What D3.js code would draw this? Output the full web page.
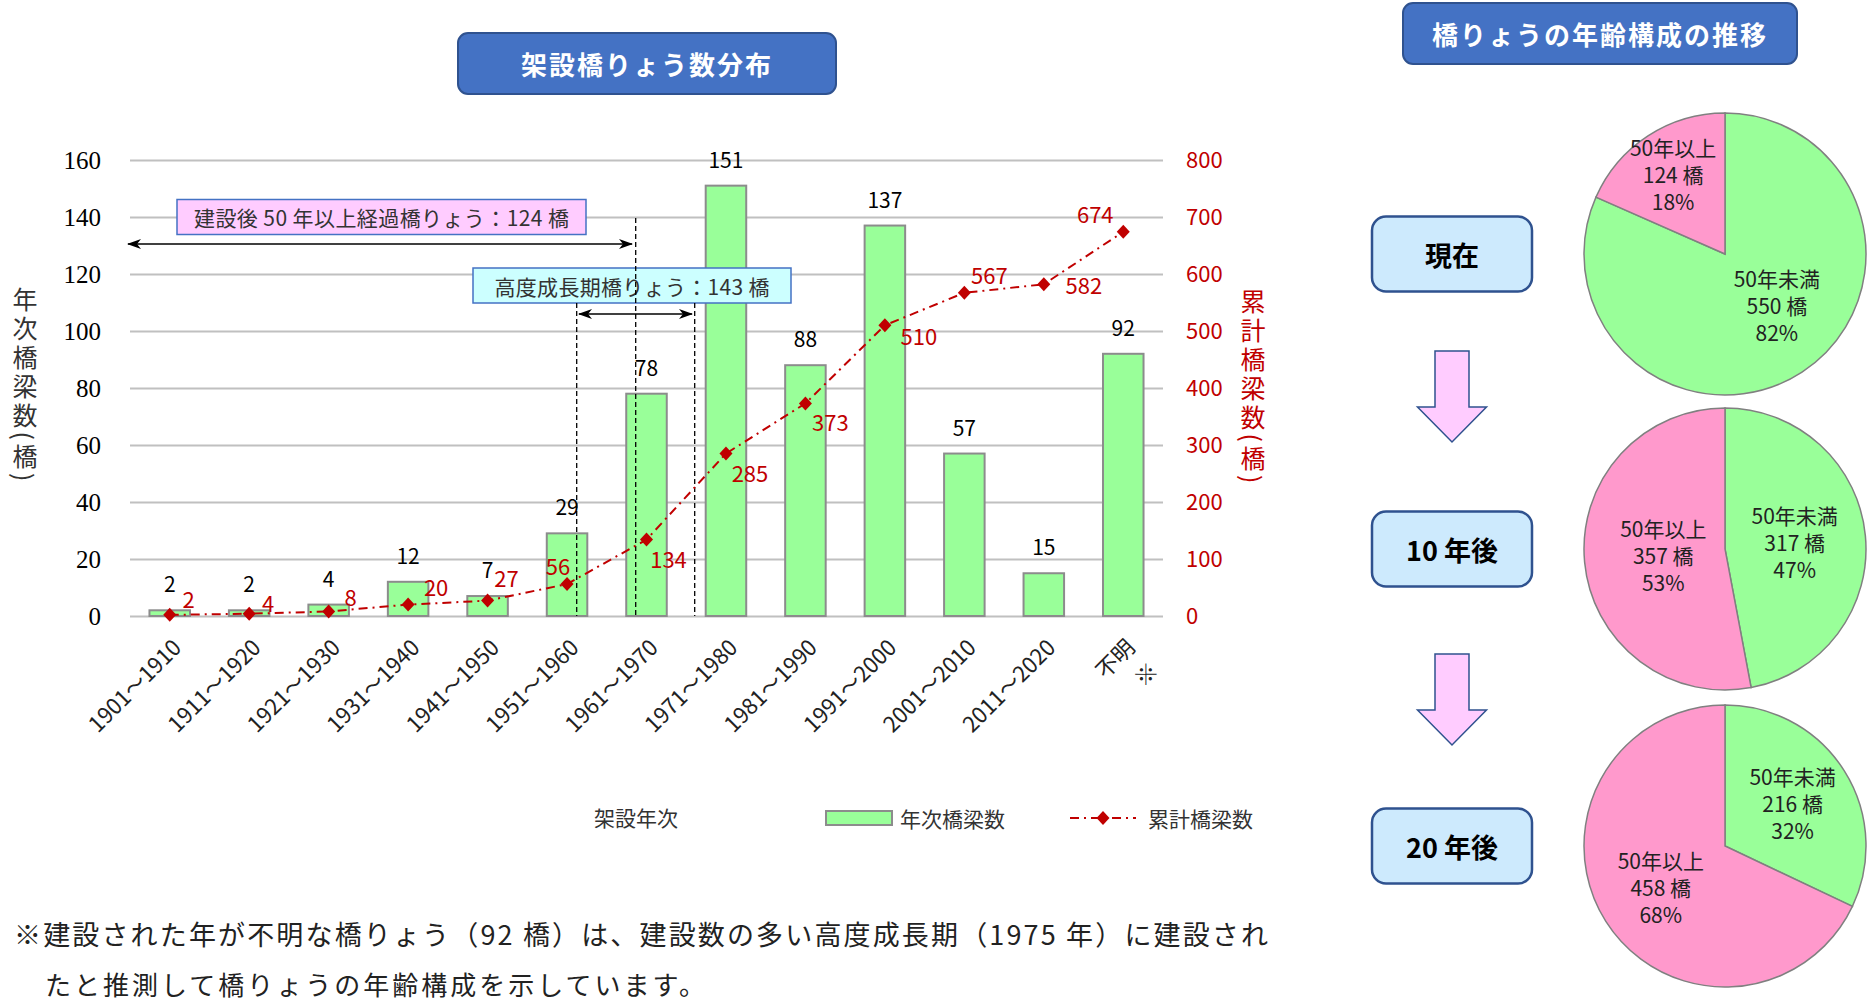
<!DOCTYPE html>
<html lang="ja">
<head>
<meta charset="utf-8">
<script src="https://cdn.jsdelivr.net/npm/d3@7"></script>
<style>
  body { margin: 0; background: #fff; }
  svg text { font-family: "Noto Sans CJK JP", "Noto Sans", sans-serif; }
</style>
</head>
<body>
<svg id="chart" width="1875" height="1002"></svg>
<script>
// --- data ---
const categories = ["1901～1910", "1911～1920", "1921～1930", "1931～1940", "1941～1950",
  "1951～1960", "1961～1970", "1971～1980", "1981～1990", "1991～2000",
  "2001～2010", "2011～2020", "不明※"];
const annualCounts = [2, 2, 4, 12, 7, 29, 78, 151, 88, 137, 57, 15, 92];
const cumulativeCounts = [2, 4, 8, 20, 27, 56, 134, 285, 373, 510, 567, 582, 674];
const leftTicks = [0, 20, 40, 60, 80, 100, 120, 140, 160];
const rightTicks = [0, 100, 200, 300, 400, 500, 600, 700, 800];

const stages = ["現在", "10 年後", "20 年後"];
const under50 = [550, 317, 216];
const over50 = [124, 357, 458];

// where the red labels sit next to their markers
const cumLabelOffset = [[19, -17], [19, -12], [22, -15], [28, -19], [19, -24], [-9, -19],
  [22, 18], [24, 18], [25, 18], [34, 10], [25, -19], [40, 0], [-28, -19]];

const svg = d3.select("#chart");
svg.append("rect").attr("width", 1875).attr("height", 1002).attr("fill", "#fff");

const plotL = 130, plotR = 1163, plotT = 160, plotB = 616;

const x = d3.scaleBand().domain(categories).range([plotL, plotR]);
const cx = (d) => x(d) + x.bandwidth() / 2;
const barW = x.bandwidth() * 0.51;
const yLeft = d3.scaleLinear().domain([0, 160]).range([plotB, plotT]);
const yRight = d3.scaleLinear().domain([0, 800]).range([plotB, plotT]);

// title boxes
function titleBox(x0, y0, w, h, label, size) {
  svg.append("rect").attr("x", x0).attr("y", y0).attr("width", w).attr("height", h)
    .attr("rx", 10).attr("fill", "#4472c4").attr("stroke", "#2f528f").attr("stroke-width", 2);
  svg.append("text").attr("x", x0 + w / 2).attr("y", y0 + h / 2)
    .attr("text-anchor", "middle").attr("dominant-baseline", "central")
    .attr("fill", "#fff").attr("font-weight", "bold").attr("font-size", size)
    .attr("letter-spacing", 2).text(label);
}
titleBox(458, 33, 378, 61, "架設橋りょう数分布", 26);
titleBox(1403, 3, 394, 61, "橋りょうの年齢構成の推移", 26);

// left axis + gridlines
const gLeft = svg.append("g").attr("transform", `translate(${plotL},0)`)
  .call(d3.axisLeft(yLeft).tickValues(leftTicks).tickSize(-(plotR - plotL)).tickPadding(29));
gLeft.select(".domain").remove();
gLeft.selectAll(".tick line").attr("stroke", "#c0c0c0").attr("stroke-width", 2);
gLeft.selectAll(".tick text").style("font-family", "'Liberation Serif', 'DejaVu Serif', serif")
  .attr("font-size", 25).attr("fill", "#000");

// right axis
const gRight = svg.append("g").attr("transform", `translate(${plotR},0)`)
  .call(d3.axisRight(yRight).tickValues(rightTicks).tickSize(0).tickPadding(23));
gRight.select(".domain").remove();
gRight.selectAll(".tick text").attr("font-size", 22).attr("fill", "#c00000");

// x axis labels
const gX = svg.append("g").attr("transform", `translate(0,${plotB})`)
  .call(d3.axisBottom(x).tickSize(0));
gX.select(".domain").remove();
gX.selectAll(".tick text")
  .attr("font-size", 22).attr("fill", "#222")
  .attr("text-anchor", "end").attr("x", 0).attr("y", 0).attr("dy", 0)
  .attr("transform", "translate(13,33) rotate(-45)")
  .each(function (d) {
    if (d.includes("※")) {
      const t = d3.select(this).text("");
      t.append("tspan").attr("x", 0).attr("dy", 0).text(d.replace("※", ""));
      t.append("tspan").attr("x", 0).attr("dy", "1.5em").text("※");
    }
  });

// axis titles
svg.append("text").attr("x", 25).attr("y", 386)
  .attr("text-anchor", "middle").style("writing-mode", "vertical-rl")
  .attr("font-size", 25).attr("letter-spacing", 4).attr("fill", "#333").text("年次橋梁数(橋)");
svg.append("text").attr("x", 1253).attr("y", 388)
  .attr("text-anchor", "middle").style("writing-mode", "vertical-rl")
  .attr("font-size", 25).attr("letter-spacing", 4).attr("fill", "#c00000").text("累計橋梁数(橋)");
svg.append("text").attr("x", 636).attr("y", 817)
  .attr("text-anchor", "middle").attr("dominant-baseline", "central")
  .attr("font-size", 21).attr("fill", "#333").text("架設年次");

// bars
svg.append("g").selectAll("rect").data(annualCounts).join("rect")
  .attr("x", (d, i) => cx(categories[i]) - barW / 2)
  .attr("y", (d) => yLeft(d))
  .attr("width", barW)
  .attr("height", (d) => plotB - yLeft(d))
  .attr("fill", "#99ff99").attr("stroke", "#8c8c8c").attr("stroke-width", 2);

svg.append("g").selectAll("text").data(annualCounts).join("text")
  .attr("x", (d, i) => cx(categories[i]))
  .attr("y", (d) => yLeft(d) - 18)
  .attr("text-anchor", "middle").attr("font-size", 21).attr("fill", "#000")
  .text((d) => d);

// annotation: 50 years
svg.append("rect").attr("x", 177).attr("y", yLeft(140) - 17.5).attr("width", 409).attr("height", 35)
  .attr("fill", "#ffccff").attr("stroke", "#4472c4").attr("stroke-width", 1.5);
svg.append("text").attr("x", 381.5).attr("y", yLeft(140))
  .attr("text-anchor", "middle").attr("dominant-baseline", "central")
  .attr("font-size", 21).attr("fill", "#333").attr("textLength", 375)
  .text("建設後 50 年以上経過橋りょう：124 橋");

// annotation: high growth
svg.append("rect").attr("x", 473).attr("y", 268).attr("width", 318).attr("height", 35)
  .attr("fill", "#ccffff").attr("stroke", "#4472c4").attr("stroke-width", 1.5);
svg.append("text").attr("x", 632).attr("y", 285.5)
  .attr("text-anchor", "middle").attr("dominant-baseline", "central")
  .attr("font-size", 21).attr("fill", "#333").attr("textLength", 275)
  .text("高度成長期橋りょう：143 橋");

// arrow heads
const defs = svg.append("defs");
defs.append("marker").attr("id", "ah").attr("viewBox", "0 0 14 10")
  .attr("refX", 13).attr("refY", 5).attr("markerWidth", 14).attr("markerHeight", 10)
  .attr("markerUnits", "userSpaceOnUse").attr("orient", "auto-start-reverse")
  .append("path").attr("d", "M0,0 L14,5 L0,10 L4,5 Z").attr("fill", "#000");

const dashed = [[635.7, 218], [576.7, 303], [694.7, 303]];
dashed.forEach(([xx, y0]) => {
  svg.append("line").attr("x1", xx).attr("x2", xx).attr("y1", y0).attr("y2", plotB)
    .attr("stroke", "#000").attr("stroke-width", 1.3).attr("stroke-dasharray", "5,3");
});

svg.append("line").attr("x1", 128).attr("x2", 632).attr("y1", 244).attr("y2", 244)
  .attr("stroke", "#000").attr("stroke-width", 1.5)
  .attr("marker-start", "url(#ah)").attr("marker-end", "url(#ah)");
svg.append("line").attr("x1", 579).attr("x2", 692).attr("y1", 314).attr("y2", 314)
  .attr("stroke", "#000").attr("stroke-width", 1.5)
  .attr("marker-start", "url(#ah)").attr("marker-end", "url(#ah)");

// cumulative line
const line = d3.line().x((d, i) => cx(categories[i])).y((d) => yRight(d));
svg.append("path").datum(cumulativeCounts).attr("d", line)
  .attr("fill", "none").attr("stroke", "#c00000").attr("stroke-width", 2)
  .attr("stroke-dasharray", "9,5,2,5");

const diamond = "M0,-7L6.5,0L0,7L-6.5,0Z";
svg.append("g").selectAll("path").data(cumulativeCounts).join("path")
  .attr("d", diamond)
  .attr("transform", (d, i) => `translate(${cx(categories[i])},${yRight(d)})`)
  .attr("fill", "#c00000");

svg.append("g").selectAll("text").data(cumulativeCounts).join("text")
  .attr("x", (d, i) => cx(categories[i]) + cumLabelOffset[i][0])
  .attr("y", (d, i) => yRight(d) + cumLabelOffset[i][1])
  .attr("text-anchor", "middle").attr("dominant-baseline", "central")
  .attr("font-size", 22).attr("fill", "#c00000")
  .text((d) => d);

// legend
svg.append("rect").attr("x", 826).attr("y", 811).attr("width", 66).attr("height", 14)
  .attr("fill", "#99ff99").attr("stroke", "#8c8c8c").attr("stroke-width", 2);
svg.append("text").attr("x", 900).attr("y", 818).attr("dominant-baseline", "central")
  .attr("font-size", 21).attr("fill", "#333").text("年次橋梁数");
svg.append("line").attr("x1", 1070).attr("x2", 1136).attr("y1", 818).attr("y2", 818)
  .attr("stroke", "#c00000").attr("stroke-width", 2).attr("stroke-dasharray", "9,5,2,5");
svg.append("path").attr("d", diamond).attr("transform", "translate(1103,818)").attr("fill", "#c00000");
svg.append("text").attr("x", 1148).attr("y", 818).attr("dominant-baseline", "central")
  .attr("font-size", 21).attr("fill", "#333").text("累計橋梁数");

// footnote
svg.append("text").attr("x", 14).attr("y", 933).attr("dominant-baseline", "central")
  .attr("font-size", 27).attr("fill", "#222").attr("textLength", 1254)
  .text("※建設された年が不明な橋りょう（92 橋）は、建設数の多い高度成長期（1975 年）に建設され");
svg.append("text").attr("x", 45).attr("y", 983).attr("dominant-baseline", "central")
  .attr("font-size", 26).attr("fill", "#222").attr("textLength", 660)
  .text("たと推測して橋りょうの年齢構成を示しています。");

// --- age composition pies ---
const stageY = [254, 549, 846];
const pieX = 1725, pieR = 141;
const pieColor = ["#99ff99", "#ff99cc"];
const sliceName = ["50年未満", "50年以上"];
const labelR = [[73, 95], [70, 62], [80, 76]];
const labelNudge = [[[12, -10], [0, 0]], [[0, 0], [0, 0]], [[0, 0], [0, 0]]];
const pie = d3.pie().sort(null);
const arc = d3.arc().innerRadius(0).outerRadius(pieR);

stages.forEach((s, k) => {
  const bx = 1372, bw = 160, bh = 75;
  const by = stageY[k] - bh / 2;
  svg.append("rect").attr("x", bx).attr("y", by).attr("width", bw).attr("height", bh)
    .attr("rx", 14).attr("fill", "#cdeafd").attr("stroke", "#2f528f").attr("stroke-width", 2.5);
  svg.append("text").attr("x", bx + bw / 2).attr("y", stageY[k])
    .attr("text-anchor", "middle").attr("dominant-baseline", "central")
    .attr("font-size", 27).attr("font-weight", "bold").attr("fill", "#000").text(s);

  const vals = [under50[k], over50[k]];
  const total = d3.sum(vals);
  const g = svg.append("g").attr("transform", `translate(${pieX},${stageY[k]})`);
  const arcs = pie(vals);
  g.selectAll("path").data(arcs).join("path")
    .attr("d", arc).attr("fill", (d, i) => pieColor[i])
    .attr("stroke", "#808080").attr("stroke-width", 1.5);

  arcs.forEach((a, i) => {
    const r = labelR[k][i];
    const c = d3.arc().innerRadius(r).outerRadius(r).centroid(a);
    const lx = c[0] + labelNudge[k][i][0], ly = c[1] + labelNudge[k][i][1];
    const t = g.append("text").attr("text-anchor", "middle").attr("font-size", 21).attr("fill", "#222");
    const lines = [sliceName[i], `${vals[i]} 橋`, `${Math.round(vals[i] / total * 100)}%`];
    lines.forEach((ln, j) => {
      t.append("tspan").attr("x", lx).attr("y", ly + (j - 1) * 27)
        .attr("dominant-baseline", "central").text(ln);
    });
  });
});

// pink arrows between stages
const arrowTop = [351, 654];
arrowTop.forEach((t) => {
  const ax = 1452;
  const pts = [[ax - 17, t], [ax + 17, t], [ax + 17, t + 56], [ax + 34.5, t + 56], [ax, t + 91],
    [ax - 34.5, t + 56], [ax - 17, t + 56]];
  svg.append("polygon").attr("points", pts.map((p) => p.join(",")).join(" "))
    .attr("fill", "#ffccff").attr("stroke", "#2f528f").attr("stroke-width", 1.5);
});
</script>
</body>
</html>
